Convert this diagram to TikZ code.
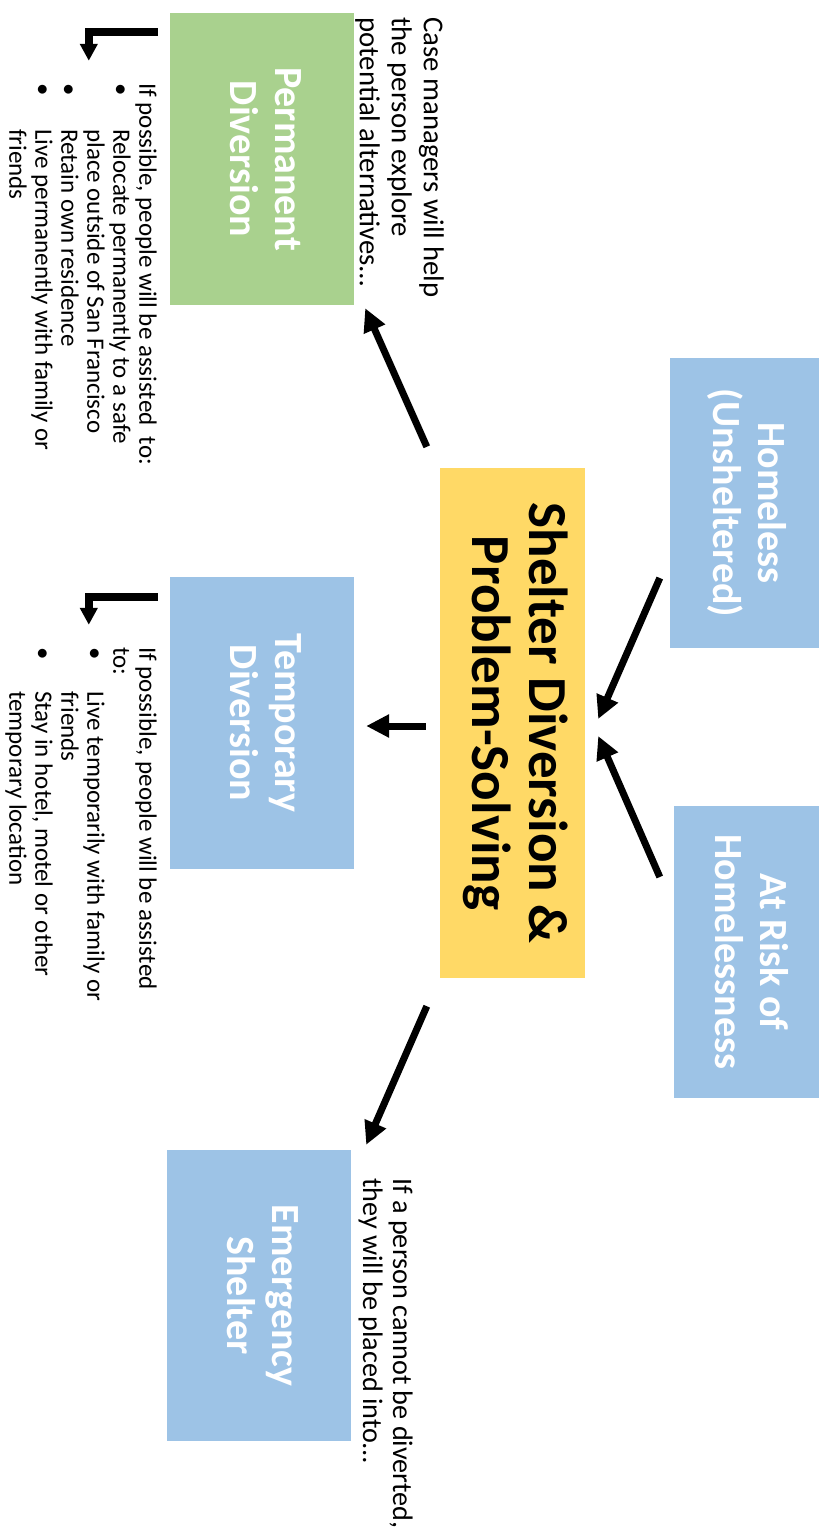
\documentclass[tikz,border=0pt]{standalone}
\usepackage{fontspec}
\setmainfont{Carlito}
\usetikzlibrary{arrows.meta,calc}
\definecolor{boxgreen}{HTML}{A9D18E}
\definecolor{boxblue}{HTML}{9DC3E6}
\definecolor{boxyellow}{HTML}{FFD966}
\begin{document}
\begin{tikzpicture}[x=1pt,y=-1pt,
  box/.style={draw=none, inner sep=0pt, align=center},
  title/.style={text=white, font=\bfseries\fontsize{40}{45}\selectfont},
  maintitle/.style={text=black, font=\bfseries\fontsize{55}{57}\selectfont},
  arr/.style={line width=7pt, -{Triangle[length=23pt,width=22pt]}},
  larr/.style={line width=8pt, -{Triangle[length=17pt,width=17pt]}},
  note/.style={inner sep=0pt, anchor=north west, rotate=-90, align=left},
  bodytext/.style={font=\fontsize{28.8}{32}\selectfont},
  listtext/.style={font=\fontsize{25}{26}\selectfont}
]
\fill[white] (0,0) rectangle (827,1537);
\useasboundingbox (0,0) rectangle (827,1537);

% boxes
\node[box, fill=boxyellow, minimum width=145pt, minimum height=510pt, maintitle] (center) at (512.5,723)
  {\rotatebox{-90}{\begin{tabular}{@{}c@{}}Shelter Diversion \&\\Problem-Solving\end{tabular}}};
\node[box, fill=boxblue, minimum width=149pt, minimum height=290pt, title] (homeless) at (744.5,503)
  {\rotatebox{-90}{\begin{tabular}{@{}c@{}}Homeless\\(Unsheltered)\end{tabular}}};
\node[box, fill=boxblue, minimum width=145pt, minimum height=292pt, title] (atrisk) at (746.5,952)
  {\rotatebox{-90}{\begin{tabular}{@{}c@{}}At Risk of\\Homelessness\end{tabular}}};
\node[box, fill=boxgreen, minimum width=184pt, minimum height=292pt, title] (perm) at (262,159)
  {\rotatebox{-90}{\begin{tabular}{@{}c@{}}Permanent\\Diversion\end{tabular}}};
\node[box, fill=boxblue, minimum width=184pt, minimum height=292pt, title] (temp) at (262,723)
  {\rotatebox{-90}{\begin{tabular}{@{}c@{}}Temporary\\Diversion\end{tabular}}};
\node[box, fill=boxblue, minimum width=184pt, minimum height=291pt, title] (emerg) at (259,1295.5)
  {\rotatebox{-90}{\begin{tabular}{@{}c@{}}Emergency\\Shelter\end{tabular}}};

% notes
\node[note, bodytext] (casetext) at (444,17)
  {Case managers will help\\the person explore\\potential alternatives…};
\node[note, listtext] (permtext) at (157,83)
  {If possible, people will be assisted\ \ to:\\
   \makebox[46pt][l]{\textbullet}Relocate permanently to a safe\\
   \hspace*{46pt}place outside of San Francisco\\
   \makebox[46pt][l]{\textbullet}Retain own residence\\
   \makebox[46pt][l]{\textbullet}Live permanently with family or\\
   \hspace*{46pt}friends};
\node[note, listtext] (temptext) at (157,647)
  {If possible, people will be assisted\\to:\\
   \makebox[44pt][l]{\textbullet}Live temporarily with family or\\
   \hspace*{44pt}friends\\
   \makebox[44pt][l]{\textbullet}Stay in hotel, motel or other\\
   \hspace*{44pt}temporary location};
\node[note, font=\fontsize{28.2}{30}\selectfont] (emergtext) at (413,1178)
  {If a person cannot be diverted,\\they will be placed into…};

% main arrows
\draw[arr] ($(homeless.west)+(-10,75)$) -- ($(center.east)+(13,-4)$);
\draw[arr] ($(atrisk.west)+(-14,-75)$) -- ($(center.east)+(13,13)$);
\draw[arr] ($(center.north west)+(-13,-21)$) -- ($(perm.south east)+(11,3)$);
\draw[arr] ($(center.west)+(-14,3)$) -- ($(temp.east)+(12,3)$);
\draw[arr] ($(center.south west)+(-13,28)$) -- ($(emerg.north east)+(15,-5)$);

% bent arrows
\coordinate (ptip) at ($(perm.north west)+(-81,48)$);
\coordinate (ttip) at ($(temp.north west)+(-81,48)$);
\draw[larr] ($(perm.north west)+(-12,19)$) -| (ptip);
\draw[larr] ($(temp.north west)+(-12,20)$) -| (ttip);
\end{tikzpicture}
\end{document}
